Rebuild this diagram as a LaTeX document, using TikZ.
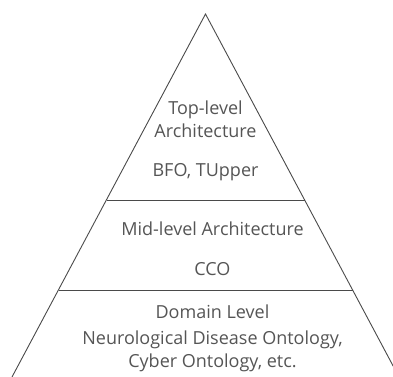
\documentclass[tikz,border=0pt]{standalone}
\usepackage{fontspec}
\setmainfont{Open Sans}
\definecolor{edgegray}{HTML}{4A4A4A}
\definecolor{textgray}{HTML}{555555}
\tikzset{
  levelline/.style={draw=edgegray, line width=0.9pt},
  leveltext/.style={text=textgray, anchor=base, font=\fontsize{18}{23}\selectfont, inner sep=0pt}
}
\begin{document}
\begin{tikzpicture}[x=1pt,y=-1pt]
      \useasboundingbox (0,0) rectangle (393,376);

      % corners of the pyramid
      \coordinate (apex) at (205.5,14);
      \coordinate (left) at (12,377);
      \coordinate (right) at (399,377);

      % draw the pyramid
      \begin{scope}
        \clip (0,0) rectangle (393,376);
        \draw[levelline, line join=miter] (left) -- (apex) -- (right);
      \end{scope}

      % draw the level borders
      \draw[levelline] (106.5,200) coordinate (topL) -- (304.5,200) coordinate (topR);
      \draw[levelline] (58.5,290) coordinate (midL) -- (352.5,290) coordinate (midR);

      % texts of the levels
      \node[leveltext] (top1) at (205.5,114) {Top-level};
      \node[leveltext] (top2) at (205.5,137) {Architecture};
      \node[leveltext] (topex) at (205.5,176) {BFO, TUpper};
      \node[leveltext] (mid) at (212.5,235) {Mid-level Architecture};
      \node[leveltext] (midex) at (212.5,275) {CCO};
      \node[leveltext] (dom1) at (212.5,318) {Domain Level};
      \node[leveltext] (dom2) at (212.5,344) {Neurological Disease Ontology,};
      \node[leveltext] (dom3) at (212.5,367) {Cyber Ontology, etc.};
    \end{tikzpicture}
\end{document}
